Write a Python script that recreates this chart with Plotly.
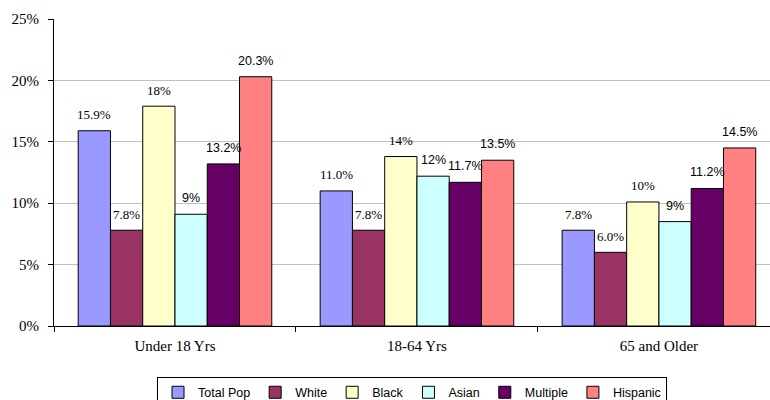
import plotly.graph_objects as go

categories = ["Under 18 Yrs", "18-64 Yrs", "65 and Older"]
series_names = ["Total Pop", "White", "Black", "Asian", "Multiple", "Hispanic"]
total_pop = [15.9, 11.0, 7.8]
white = [7.8, 7.8, 6.0]
black = [17.9, 13.8, 10.1]
asian = [9.1, 12.2, 8.5]
multiple = [13.2, 11.7, 11.2]
hispanic = [20.3, 13.5, 14.5]
total_pop_labels = ["15.9%", "11.0%", "7.8%"]
white_labels = ["7.8%", "7.8%", "6.0%"]
black_labels = ["18%", "14%", "10%"]
asian_labels = ["9%", "12%", "9%"]
multiple_labels = ["13.2%", "11.7%", "11.2%"]
hispanic_labels = ["20.3%", "13.5%", "14.5%"]
y_max = 25
y_step = 5

values = [total_pop, white, black, asian, multiple, hispanic]
labels = [total_pop_labels, white_labels, black_labels, asian_labels,
          multiple_labels, hispanic_labels]
colors = ["#9999FF", "#993366", "#FFFFCC", "#CCFFFF", "#660066", "#FF8080"]
label_fonts = ["Liberation Serif"] * 3 + ["Liberation Sans"] * 3
label_sizes = [13, 13, 13, 12.5, 12.5, 12.5]

W, H = 770, 400
ML, MR, MT, MB = 54, 0, 19, 74
bargap = 0.2
x_range = [-0.5, 2.459]

fig = go.Figure()
for name, vals, col in zip(series_names, values, colors):
    fig.add_trace(go.Bar(
        x=categories, y=vals, name=name,
        marker=dict(color=col, line=dict(color="#000000", width=1)),
        hoverinfo="skip",
    ))

plot_w = W - ML - MR
px_per_cat = plot_w / (x_range[1] - x_range[0])
bar_w = px_per_cat * (1 - bargap) / len(series_names)
annotations = []
for i, (vals, labs) in enumerate(zip(values, labels)):
    for cat, v, lab in zip(categories, vals, labs):
        annotations.append(dict(
            x=cat, y=v, text=lab, showarrow=False,
            xref="x", yref="y", yanchor="middle", xanchor="center",
            xshift=(i - (len(series_names) - 1) / 2) * bar_w, yshift=16,
            font=dict(family=label_fonts[i], size=label_sizes[i], color="#000000"),
        ))

fig.update_layout(
    width=W, height=H,
    margin=dict(l=ML, r=MR, t=MT, b=MB, pad=0, autoexpand=False),
    paper_bgcolor="white", plot_bgcolor="white",
    barmode="group", bargap=bargap, bargroupgap=0,
    showlegend=True,
    legend=dict(
        orientation="h", x=0.5, xanchor="center", y=-0.165, yanchor="top",
        bordercolor="#000000", borderwidth=1,
        font=dict(family="Liberation Sans", size=12.5, color="#000000"),
        itemwidth=30, tracegroupgap=0,
    ),
    annotations=annotations,
    xaxis=dict(
        range=x_range, showline=True, linecolor="#000000", linewidth=1,
        ticks="outside", tickson="boundaries", ticklen=5, tickcolor="#000000",
        tickfont=dict(family="Liberation Serif", size=15, color="#000000"),
        ticklabelstandoff=6, showgrid=False, fixedrange=True,
    ),
    yaxis=dict(
        range=[0, y_max], tickmode="linear", tick0=0, dtick=y_step,
        ticksuffix="%",
        showline=True, linecolor="#000000", linewidth=1,
        ticks="outside", ticklen=5, tickcolor="#000000",
        tickfont=dict(family="Liberation Serif", size=15, color="#000000"),
        ticklabelstandoff=6,
        showgrid=True, gridcolor="#C0C0C0", gridwidth=1, zeroline=False,
        fixedrange=True,
    ),
)

fig.write_html("out.html", config={"displayModeBar": False})
